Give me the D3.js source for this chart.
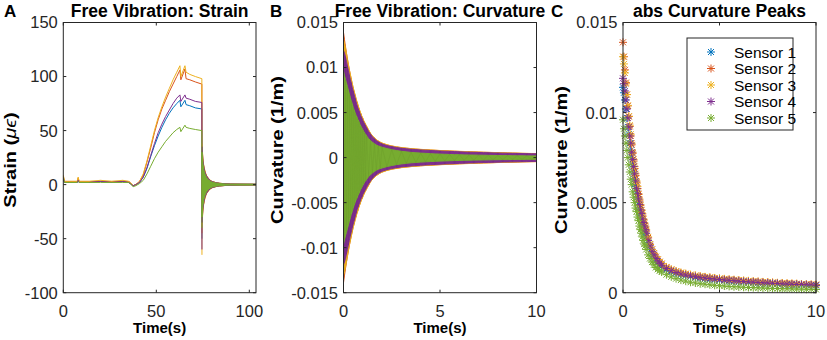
<!DOCTYPE html>
<html>
<head>
<meta charset="utf-8">
<script src="https://cdn.jsdelivr.net/npm/d3@7"></script>
<style>
  body { margin: 0; background: #fff; }
  svg { display: block; font-family: "Liberation Sans", Arial, sans-serif; }
</style>
</head>
<body>
<svg id="chart" width="827" height="340"></svg>
<script>
// ---- data ----
const SENSORS = ["Sensor 1", "Sensor 2", "Sensor 3", "Sensor 4", "Sensor 5"];
const COLORS = ["#0072BD", "#D95319", "#EDB120", "#7E2F8E", "#77AC30"];

// panel A: quasi-static strain (micro-strain) up to the release at ~74.5 s
const STRAIN_T = [0, 0.6, 3, 7.5, 8, 8.5, 14, 20, 26, 32, 35, 36, 37.5, 39, 41, 43, 45, 47, 49, 51, 53, 55, 57, 59, 61, 62.7, 63.2, 65.4, 66, 68, 71, 74.5, 74.55];
const STRAIN_1 = [5, 2, 2, 2, 4, 2, 2, 3, 2, 3, 2, 1, -1, 0, 2, 7, 15, 26, 36, 45, 53, 60, 66, 71, 75, 78, 72, 78, 74, 73, 71, 70, -50];
const STRAIN_2 = [8, 3, 3, 3, 6, 3, 3, 3, 3, 3, 3, 2, -1, 0, 3, 9, 21, 34, 48, 60, 70, 78, 86, 93, 100, 106, 97, 107, 98, 97, 95, 93, -45];
const STRAIN_3 = [9, 3, 3, 3, 7, 3, 3, 4, 3, 4, 3, 2, -1, 0, 3, 10, 22, 36, 50, 62, 72, 81, 89, 97, 104, 110, 100, 110, 104, 102, 100, 98, -65];
const STRAIN_4 = [6, 2, 2, 2, 4, 2, 2, 3, 2, 3, 2, 1, -1, 0, 2, 7, 16, 27, 38, 48, 56, 63, 69, 75, 80, 83, 77, 83, 80, 79, 77, 76, -60];
const STRAIN_5 = [7, 2, 2, 2, 3, 2, 2, 2, 2, 2, 2, 1, -2, -1, 1, 4, 10, 17, 24, 30, 35, 40, 44, 48, 51, 53, 49, 55, 53, 52, 51, 50, -40];

// panel A: free-vibration envelope after release (+/- amplitude, micro-strain)
const VIB_T = [74.6, 75, 75.5, 76, 76.5, 77, 78, 79, 80, 82, 84, 87, 90, 95, 103.6];
const VIB_1 = [33, 22, 16, 12, 9.5, 7.5, 5.2, 3.6, 2.6, 1.7, 1.1, 0.7, 0.5, 0.4, 0.3];
const VIB_2 = [36, 24, 17, 13, 10, 8, 5.6, 3.9, 2.8, 1.8, 1.2, 0.8, 0.5, 0.4, 0.3];
const VIB_3 = [38, 25, 18, 14, 11, 8.5, 6, 4.1, 3, 1.9, 1.3, 0.8, 0.5, 0.4, 0.3];
const VIB_4 = [35, 23, 17, 12.5, 10, 8, 5.5, 3.8, 2.8, 1.8, 1.2, 0.8, 0.5, 0.4, 0.3];
const VIB_5 = [30, 20, 14, 10.5, 8.5, 6.5, 4.5, 3.2, 2.3, 1.5, 1, 0.6, 0.4, 0.4, 0.3];

// panels B & C: abs curvature peaks (1/m); panel B shows the +/- oscillation band
const PEAK_T = [0, 0.05, 0.1, 0.15, 0.2, 0.25, 0.3, 0.35, 0.4, 0.45, 0.5, 0.55, 0.6, 0.65, 0.7, 0.75, 0.8, 0.85, 0.9, 0.95, 1.0, 1.05, 1.1, 1.15, 1.2,
  1.3, 1.4, 1.5, 1.6, 1.7, 1.8, 1.9, 2.0,
  2.25, 2.5, 2.75, 3, 3.25, 3.5, 3.75, 4, 4.25, 4.5, 4.75, 5, 5.25, 5.5, 5.75, 6, 6.25, 6.5, 6.75, 7, 7.25, 7.5, 7.75, 8, 8.25, 8.5, 8.75, 9, 9.25, 9.5, 9.75, 10];
const PEAK_1 = [.0114, .0111, .0107, .0102, .0097, .0092, .0088, .0083, .0079, .0075, .0071, .0067, .0063, .0059, .0056, .0053, .005, .0047, .0044, .0042, .0039, .0037, .0035, .0033, .0031,
  .0028, .0025, .0022, .002, .00182, .00168, .00156, .00146,
  .00128, .00117, .00108, .001, .00094, .00089, .00085, .00081, .00078, .00075, .00072, .0007, .00068, .00066, .00064, .00062, .0006, .00058, .00056, .00054, .00053, .00051, .0005, .00048, .00047, .00046, .00045, .00044, .00043, .00042, .00041, .0004];
const PEAK_2 = [.0139, .0131, .01237, .01166, .011, .01037, .00978, .00923, .0087, .00821, .00774, .00731, .00689, .0065, .00613, .00578, .00545, .00514, .00485, .00458, .00431, .00407, .00384, .00362, .00342,
  .00304, .00268, .0024, .00218, .00199, .00184, .00171, .0016,
  .00141, .00128, .00118, .0011, .00104, .00099, .00094, .0009, .00087, .00084, .00081, .00078, .00075, .00073, .00071, .00068, .00066, .00064, .00063, .00061, .00059, .00058, .00056, .00054, .00053, .00051, .0005, .00049, .00047, .00046, .00045, .00044];
const PEAK_3 = [.0131, .0127, .0122, .0116, .011, .0104, .0098, .0093, .0088, .0083, .0078, .0074, .007, .0066, .0062, .0059, .0055, .0052, .0049, .0046, .0044, .0041, .0039, .0037, .0035,
  .0031, .0027, .0024, .0022, .002, .00185, .00172, .00162,
  .00143, .0013, .0012, .00112, .00106, .001, .00096, .00092, .00088, .00085, .00082, .00079, .00077, .00074, .00072, .0007, .00068, .00066, .00064, .00062, .0006, .00058, .00057, .00055, .00054, .00052, .00051, .0005, .00048, .00047, .00046, .00045];
const PEAK_4 = [.0119, .0116, .0112, .0107, .0102, .0097, .0092, .0087, .0083, .0078, .0074, .007, .0066, .0062, .0058, .0055, .0052, .0049, .0046, .0044, .0041, .0039, .0037, .0035, .0033,
  .0029, .0026, .0023, .0021, .0019, .00175, .00163, .00152,
  .00134, .00122, .00112, .00104, .00098, .00093, .00089, .00085, .00082, .00079, .00076, .00073, .00071, .00069, .00067, .00064, .00062, .0006, .00059, .00057, .00055, .00054, .00052, .00051, .00049, .00048, .00047, .00046, .00045, .00044, .00043, .00042];
const PEAK_5 = [.0096, .0091, .0087, .0083, .0079, .0075, .0071, .0067, .0063, .006, .0056, .0053, .005, .0047, .0045, .0042, .004, .0037, .0035, .0033, .0031, .0029, .0027, .0026, .0024,
  .0021, .0019, .0017, .00155, .0014, .0013, .00122, .00115,
  .001, .00088, .00078, .0007, .00064, .00058, .00054, .0005, .00047, .00044, .00041, .00039, .00037, .00035, .00033, .00032, .0003, .00029, .00028, .00027, .00026, .00025, .00024, .00023, .00022, .00022, .00021, .0002, .0002, .00019, .00019, .00018];

const TICKS_A_X = [0, 50, 100], TICKS_A_Y = [-100, -50, 0, 50, 100, 150];
const TICKS_B_X = [0, 5, 10], TICKS_B_Y = [-0.015, -0.01, -0.005, 0, 0.005, 0.01, 0.015];
const TICKS_C_X = [0, 5, 10], TICKS_C_Y = [0, 0.005, 0.01, 0.015];

const strain = [STRAIN_1, STRAIN_2, STRAIN_3, STRAIN_4, STRAIN_5];
const vib = [VIB_1, VIB_2, VIB_3, VIB_4, VIB_5];
const peaks = [PEAK_1, PEAK_2, PEAK_3, PEAK_4, PEAK_5];

// ---- drawing ----
const svg = d3.select("#chart");
const AX = "#262626";
const yTop = 22.5, yBottom = 292.7;

function fmt(v) { return v === 0 ? "0" : String(v); }

function panel(cfg) {
  const x = d3.scaleLinear().domain(cfg.xd).range([cfg.x0, cfg.x1]);
  const y = d3.scaleLinear().domain(cfg.yd).range([yBottom, yTop]);
  const g = svg.append("g");

  const clipId = "clip-" + cfg.id;
  svg.append("clipPath").attr("id", clipId).append("rect")
    .attr("x", cfg.x0).attr("y", yTop).attr("width", cfg.x1 - cfg.x0).attr("height", yBottom - yTop);
  const plot = g.append("g");
  if (cfg.clip) plot.attr("clip-path", `url(#${clipId})`);

  const frame = g.append("g");
  // ticks inside, on all four sides (box on)
  const tl = 3;
  const ax = frame.append("g").attr("stroke", AX).attr("stroke-width", 1).attr("fill", "none");
  ax.selectAll(".xt").data(cfg.xt).enter().append("path")
    .attr("d", d => `M${x(d)},${yBottom}v${-tl}M${x(d)},${yTop}v${tl}`);
  ax.selectAll(".yt").data(cfg.yt).enter().append("path")
    .attr("d", d => `M${cfg.x0},${y(d)}h${tl}M${cfg.x1},${y(d)}h${-tl}`);
  ax.append("rect").attr("x", cfg.x0).attr("y", yTop)
    .attr("width", cfg.x1 - cfg.x0).attr("height", yBottom - yTop);

  frame.selectAll(".xl").data(cfg.xt).enter().append("text")
    .attr("x", d => x(d)).attr("y", 317).attr("text-anchor", "middle")
    .attr("font-size", 16.5).attr("fill", AX).text(fmt);
  frame.selectAll(".yl").data(cfg.yt).enter().append("text")
    .attr("x", cfg.x0 - 5.5).attr("y", d => y(d)).attr("dy", "0.36em").attr("text-anchor", "end")
    .attr("font-size", 16.5).attr("fill", AX).text(fmt);

  frame.append("text").attr("x", (cfg.x0 + cfg.x1) / 2).attr("y", 333)
    .attr("text-anchor", "middle").attr("font-size", 15).attr("font-weight", "bold")
    .attr("fill", "#000").text("Time(s)");
  const yl = frame.append("text").attr("transform", `translate(${cfg.ylx},${cfg.yly}) rotate(-90) scale(1.25,1)`)
    .attr("text-anchor", "middle").attr("font-size", 16).attr("font-weight", "bold")
    .attr("fill", "#000");
  yl.append("tspan").text(cfg.ylabel);
  if (cfg.yunit) {
    yl.append("tspan").text("(");
    yl.append("tspan").attr("font-style", "italic").attr("font-weight", "normal").text(cfg.yunit);
    yl.append("tspan").text(")");
  }
  frame.append("text").attr("x", (cfg.x0 + cfg.x1) / 2).attr("y", 16.5)
    .attr("text-anchor", "middle").attr("font-size", 17.5).attr("font-weight", "bold")
    .attr("fill", "#000").text(cfg.title);
  frame.append("text").attr("x", cfg.lx).attr("y", 16.5)
    .attr("font-size", 17).attr("font-weight", "bold").attr("fill", "#000").text(cfg.letter);

  return { x, y, plot, frame };
}

// ---- A: strain ----
const A = panel({ id: "a", x0: 63.3, x1: 256, xd: [0, 103.6], yd: [-100, 150], xt: TICKS_A_X, yt: TICKS_A_Y,
  clip: true, title: "Free Vibration: Strain", letter: "A", lx: 4, ylabel: "Strain ", yunit: "\u03bc\u03f5", ylx: 16, yly: 160 });

const lineA = d3.line().x(d => A.x(d[0])).y(d => A.y(d[1]));
const areaA = d3.area().x(d => A.x(d[0])).y0(d => A.y(-d[1])).y1(d => A.y(d[1]));
SENSORS.forEach((s, i) => {
  A.plot.append("path")
    .attr("d", lineA(STRAIN_T.map((t, k) => [t, strain[i][k]])))
    .attr("fill", "none").attr("stroke", COLORS[i]).attr("stroke-width", 1);
  A.plot.append("path")
    .attr("d", areaA([[74.55, vib[i][0]]].concat(VIB_T.map((t, k) => [t, vib[i][k]]))))
    .attr("fill", COLORS[i]).attr("stroke", COLORS[i]).attr("stroke-width", 1);
});

// ---- B: curvature trace (dense oscillation drawn as its +/- peak band) ----
const B = panel({ id: "b", x0: 343.5, x1: 536.5, xd: [0, 10], yd: [-0.015, 0.015], xt: TICKS_B_X, yt: TICKS_B_Y,
  clip: true, title: "Free Vibration: Curvature", letter: "B", lx: 270, ylabel: "Curvature (1/m)", ylx: 283, yly: 150 });

const areaB = d3.area().x(d => B.x(d[0])).y0(d => B.y(-d[1])).y1(d => B.y(d[1]));
const lineB = d3.line().x(d => B.x(d[0])).y(d => B.y(d[1]));
SENSORS.forEach((s, i) => {
  const band = PEAK_T.map((t, k) => [t, peaks[i][k]]);
  B.plot.append("path").attr("d", areaB(band))
    .attr("fill", COLORS[i]).attr("stroke", COLORS[i]).attr("stroke-width", 1);
  // peak-to-peak swings for the striped texture
  B.plot.append("path").attr("d", lineB(band.map((d, k) => [d[0], (k % 2 ? -1 : 1) * d[1]])))
    .attr("fill", "none").attr("stroke", d3.color(COLORS[i]).darker(0.3)).attr("stroke-width", 0.6)
    .attr("opacity", 0.6);
});

// ---- C: abs curvature peaks ----
const C = panel({ id: "c", x0: 623, x1: 816, xd: [0, 10], yd: [0, 0.015], xt: TICKS_C_X, yt: TICKS_C_Y,
  clip: false, title: "abs Curvature Peaks", letter: "C", lx: 551, ylabel: "Curvature (1/m)", ylx: 567, yly: 160 });

const star = "M-4,0H4M0,-4V4M-3,-3L3,3M-3,3L3,-3";
SENSORS.forEach((s, i) => {
  C.plot.append("g").selectAll("path").data(PEAK_T.map((t, k) => [t, peaks[i][k]])).enter()
    .append("path").attr("d", star)
    .attr("transform", d => `translate(${C.x(d[0])},${C.y(d[1])})`)
    .attr("fill", "none").attr("stroke", COLORS[i]).attr("stroke-width", 1);
});

// legend
const leg = svg.append("g");
leg.append("rect").attr("x", 687).attr("y", 38).attr("width", 106).attr("height", 92)
  .attr("fill", "#fff").attr("stroke", AX).attr("stroke-width", 1);
SENSORS.forEach((s, i) => {
  const yy = 52 + i * 16.5;
  leg.append("path").attr("d", star).attr("transform", `translate(711,${yy})`)
    .attr("fill", "none").attr("stroke", COLORS[i]).attr("stroke-width", 1);
  leg.append("text").attr("x", 734).attr("y", yy).attr("dy", "0.36em")
    .attr("font-size", 15.5).attr("fill", "#000").text(s);
});
</script>
</body>
</html>
